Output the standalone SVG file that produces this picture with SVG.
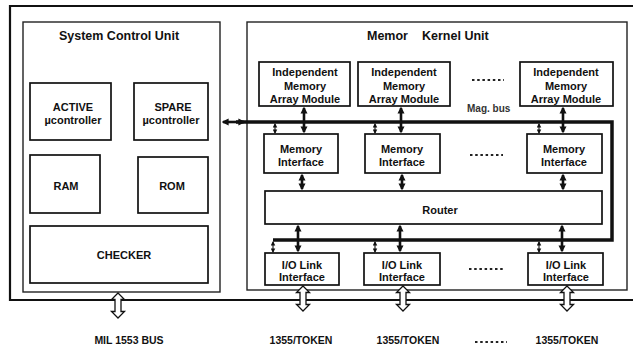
<svg xmlns="http://www.w3.org/2000/svg" width="633" height="350" viewBox="0 0 633 350">
  <style>
    text { font-family: "Liberation Sans", Arial, sans-serif; font-weight: bold; fill: #111; text-anchor: middle; }
    .t11 { font-size: 11px; }
    .title { font-size: 12.5px; }
    .lbl { font-size: 10.5px; }
    .note { font-size: 10px; fill: #333; text-anchor: start; }
    .frame { fill: none; stroke: #111; stroke-width: 2.2; }
    .unit { fill: #fff; stroke: #222; stroke-width: 1.4; }
    .box { fill: #fff; stroke: #111; stroke-width: 1.7; }
    .bus { fill: none; stroke: #111; stroke-width: 3.5; stroke-linejoin: miter; }
    .thick { stroke: #111; stroke-width: 2.6; marker-start: url(#headBig); marker-end: url(#headBig); }
    .thin { stroke: #111; stroke-width: 1.1; marker-start: url(#headSmall); marker-end: url(#headSmall); }
    .hollow { fill: #fff; stroke: #111; stroke-width: 1.3; }
    .dots { stroke: #222; stroke-width: 2; stroke-dasharray: 2.5 2.7; }
  </style>
  <defs>
    <marker id="headBig" viewBox="0 0 10 10" refX="8" refY="5" markerWidth="7" markerHeight="8" markerUnits="userSpaceOnUse" orient="auto-start-reverse">
      <path d="M0,0 L10,5 L0,10 Z" fill="#111"/>
    </marker>
    <marker id="headSmall" viewBox="0 0 10 10" refX="8" refY="5" markerWidth="4.5" markerHeight="5" markerUnits="userSpaceOnUse" orient="auto-start-reverse">
      <path d="M0,0 L10,5 L0,10 Z" fill="#111"/>
    </marker>
    <!-- hollow two-way arrow, 25 px tall, origin at top centre -->
    <path id="hollowArrow" class="hollow" d="M0,0 L6.5,6.5 L3,6.5 L3,18.5 L6.5,18.5 L0,25 L-6.5,18.5 L-3,18.5 L-3,6.5 L-6.5,6.5 Z"/>
  </defs>

  <rect width="633" height="350" fill="#fff"/>

  <!-- outer enclosure -->
  <path class="frame" d="M640,6 H10 V300 H640"/>

  <!-- System Control Unit -->
  <g id="system-control-unit">
    <rect class="unit" x="23" y="22" width="197" height="270"/>
    <text class="title" x="119" y="40">System Control Unit</text>
  </g>
  <g id="active-ucontroller">
    <rect class="box" x="30" y="83" width="81" height="57"/>
    <text class="t11" x="73" y="111">ACTIVE</text>
    <text class="t11" x="73" y="124">µcontroller</text>
  </g>
  <g id="spare-ucontroller">
    <rect class="box" x="134" y="83" width="74" height="57"/>
    <text class="t11" x="173" y="111">SPARE</text>
    <text class="t11" x="171" y="124">µcontroller</text>
  </g>
  <g id="ram">
    <rect class="box" x="30" y="155" width="70" height="58"/>
    <text class="t11" x="66" y="190">RAM</text>
  </g>
  <g id="rom">
    <rect class="box" x="138" y="157" width="70" height="56"/>
    <text class="t11" x="172" y="190">ROM</text>
  </g>
  <g id="checker">
    <rect class="box" x="30" y="226" width="178" height="57"/>
    <text class="t11" x="124" y="259">CHECKER</text>
  </g>

  <!-- Memory Kernel Unit -->
  <g id="memory-kernel-unit">
    <rect class="unit" x="247" y="22" width="380" height="268"/>
    <text class="title" x="367" y="40" style="text-anchor:start">Memor</text>
    <text class="title" x="422" y="40" style="text-anchor:start">Kernel Unit</text>
  </g>

  <g id="imam-1">
    <rect class="box" x="259" y="62" width="91" height="44"/>
    <text class="t11" x="305" y="76">Independent</text>
    <text class="t11" x="305" y="90">Memory</text>
    <text class="t11" x="305" y="103">Array Module</text>
  </g>
  <g id="imam-2">
    <rect class="box" x="358" y="62" width="92" height="44"/>
    <text class="t11" x="404" y="76">Independent</text>
    <text class="t11" x="404" y="90">Memory</text>
    <text class="t11" x="404" y="103">Array Module</text>
  </g>
  <g id="imam-n">
    <rect class="box" x="520" y="62" width="93" height="44"/>
    <text class="t11" x="566" y="76">Independent</text>
    <text class="t11" x="566" y="90">Memory</text>
    <text class="t11" x="566" y="103">Array Module</text>
  </g>

  <g id="mi-1">
    <rect class="box" x="264" y="134" width="74" height="39"/>
    <text class="t11" x="301" y="153">Memory</text>
    <text class="t11" x="301" y="166">Interface</text>
  </g>
  <g id="mi-2">
    <rect class="box" x="365" y="134" width="75" height="39"/>
    <text class="t11" x="402" y="153">Memory</text>
    <text class="t11" x="402" y="166">Interface</text>
  </g>
  <g id="mi-n">
    <rect class="box" x="527" y="134" width="75" height="39"/>
    <text class="t11" x="564" y="153">Memory</text>
    <text class="t11" x="564" y="166">Interface</text>
  </g>

  <g id="router">
    <rect class="box" x="265" y="191" width="337" height="33"/>
    <text class="t11" x="440" y="214">Router</text>
  </g>

  <g id="io-1">
    <rect class="box" x="265" y="253" width="74" height="32"/>
    <text class="t11" x="302" y="269">I/O Link</text>
    <text class="t11" x="302" y="281">Interface</text>
  </g>
  <g id="io-2">
    <rect class="box" x="364" y="253" width="76" height="32"/>
    <text class="t11" x="402" y="269">I/O Link</text>
    <text class="t11" x="402" y="281">Interface</text>
  </g>
  <g id="io-n">
    <rect class="box" x="528" y="253" width="75" height="32"/>
    <text class="t11" x="566" y="269">I/O Link</text>
    <text class="t11" x="566" y="281">Interface</text>
  </g>

  <!-- ellipsis marks between repeated columns -->
  <g id="ellipses">
    <line class="dots" x1="472" y1="80" x2="504" y2="80"/>
    <line class="dots" x1="470" y1="155" x2="503" y2="155"/>
    <line class="dots" x1="469" y1="269" x2="503" y2="269"/>
    <line class="dots" x1="475" y1="342" x2="507" y2="342"/>
  </g>

  <!-- connectors -->
  <g id="connectors">
    <!-- maintenance bus loop -->
    <path class="bus" d="M236,122 H612 V240 H273"/>
    <line class="thick" x1="223" y1="122" x2="244" y2="122"/>

    <!-- IMAM <-> Memory Interface -->
    <line class="thick" x1="304" y1="108" x2="304" y2="132"/>
    <line class="thick" x1="401" y1="108" x2="401" y2="132"/>
    <line class="thick" x1="563" y1="108" x2="563" y2="132"/>

    <!-- bus taps to Memory Interface -->
    <line class="thin" x1="275" y1="124" x2="275" y2="133"/>
    <line class="thin" x1="375" y1="124" x2="375" y2="133"/>
    <line class="thin" x1="539" y1="124" x2="539" y2="133"/>

    <!-- Memory Interface <-> Router -->
    <line class="thick" x1="302" y1="175" x2="302" y2="189"/>
    <line class="thick" x1="402" y1="175" x2="402" y2="189"/>
    <line class="thick" x1="563" y1="175" x2="563" y2="189"/>

    <!-- Router <-> I/O Link Interface -->
    <line class="thick" x1="298" y1="226" x2="298" y2="251"/>
    <line class="thick" x1="400" y1="226" x2="400" y2="251"/>
    <line class="thick" x1="562" y1="226" x2="562" y2="251"/>

    <!-- bus taps to I/O Link Interface -->
    <line class="thin" x1="273" y1="242" x2="273" y2="252"/>
    <line class="thin" x1="375" y1="242" x2="375" y2="252"/>
    <line class="thin" x1="539" y1="242" x2="539" y2="252"/>

    <!-- external links -->
    <use href="#hollowArrow" x="118" y="293"/>
    <use href="#hollowArrow" x="303" y="286"/>
    <use href="#hollowArrow" x="403" y="286"/>
    <use href="#hollowArrow" x="567" y="286"/>
  </g>

  <!-- bus and link labels -->
  <text class="note" x="467" y="112">Mag. bus</text>
  <text class="lbl" x="129" y="344">MIL 1553 BUS</text>
  <text class="lbl" x="301" y="344">1355/TOKEN</text>
  <text class="lbl" x="408" y="344">1355/TOKEN</text>
  <text class="lbl" x="567" y="344">1355/TOKEN</text>
</svg>
